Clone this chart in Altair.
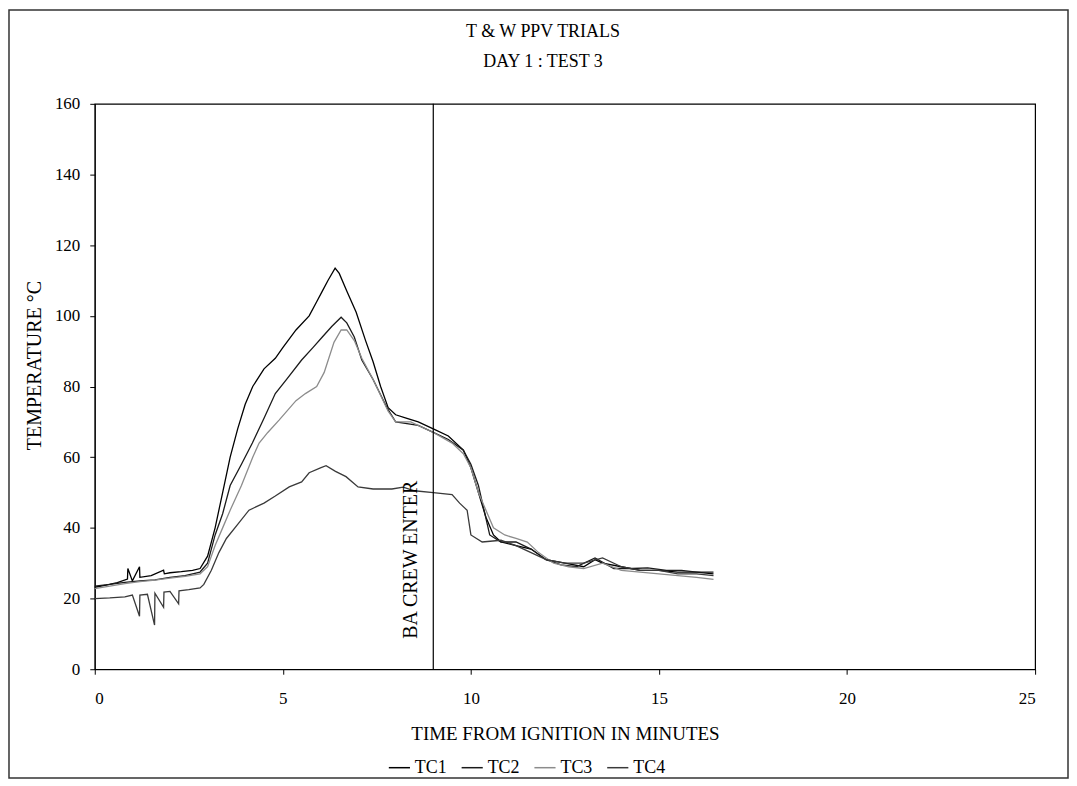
import altair as alt
import pandas as pd

# ---- data ----
tc1_t = [0, 0.3, 0.6, 0.87, 0.88, 1.0, 1.19, 1.2, 1.5, 1.83, 1.85, 2.0, 2.3, 2.6, 2.8, 3.0, 3.2, 3.4, 3.6, 3.8,
         4.0, 4.2, 4.5, 4.8, 5.0, 5.35, 5.7, 5.9, 6.05, 6.2, 6.39, 6.5, 6.7, 6.95, 7.2, 7.4, 7.6, 7.8, 8.0, 8.3,
         8.6, 9.0, 9.4, 9.8, 10.0, 10.2, 10.4, 10.6, 10.8, 11.2, 11.6, 12.0, 12.5, 13.0, 13.3, 13.5, 14.0, 14.5,
         15.0, 15.5, 16.0, 16.45]
tc1_v = [23.2, 23.8, 24.5, 25.5, 28.5, 25.0, 29.0, 26.0, 26.5, 28.0, 27.0, 27.3, 27.6, 28.0, 28.5, 32, 40, 50, 60, 68,
         75, 80, 85, 88, 91, 96, 100, 104, 107, 110, 113.5, 112, 107, 101, 93, 87, 80, 74, 72, 71,
         70, 68, 66, 62, 57, 50, 43, 38, 36, 35, 34, 31, 30, 29, 31, 30, 29, 28,
         28, 27.5, 27.5, 27]

tc2_t = [0, 0.4, 0.8, 1.2, 1.6, 2.0, 2.4, 2.8, 3.0, 3.2, 3.4, 3.6, 3.9, 4.19, 4.5, 4.8, 5.1, 5.5, 5.8, 6.05,
         6.3, 6.55, 6.7, 6.9, 7.1, 7.4, 7.77, 8.0, 8.3, 8.6, 9.0, 9.4, 9.8, 10.0, 10.2, 10.35, 10.5, 10.8, 11.2,
         11.6, 12.0, 12.4, 12.8, 13.3, 13.8, 14.3, 14.7, 15.2, 15.6, 16.0, 16.45]
tc2_v = [23.5, 24.0, 24.6, 25.0, 25.3, 26.0, 26.5, 27.5, 30, 38, 44, 52, 58, 64, 71, 78, 82, 87.5, 91, 94,
         97, 99.6, 98, 94, 87.5, 82, 74, 70, 69.5, 69, 67, 65, 62, 58, 52, 45, 38, 36, 36,
         34, 31, 29.5, 29, 31.5, 28.5, 28.5, 28.7, 28, 28, 27.5, 27.5]

tc3_t = [0, 0.4, 0.8, 1.2, 1.6, 2.0, 2.4, 2.8, 3.0, 3.2, 3.4, 3.6, 3.9, 4.2, 4.37, 4.6, 4.9, 5.35, 5.6, 5.9,
         6.1, 6.36, 6.55, 6.7, 6.9, 7.1, 7.4, 7.8, 8.0, 8.4, 9.0, 9.5, 9.8, 10.0, 10.2, 10.4, 10.6, 10.9, 11.2,
         11.5, 11.8, 12.2, 12.6, 13.0, 13.5, 14.0, 14.5, 15.0, 15.5, 16.0, 16.45]
tc3_v = [22.8, 23.5, 24.2, 24.8, 25.2, 25.8, 26.3, 27.0, 29, 35, 40, 45, 52, 60, 64, 67, 70.5, 76, 78, 80,
         84, 92.5, 96, 96, 93, 88, 82, 73, 70, 70, 67, 64, 61, 57, 50, 45, 40, 38, 37,
         36, 33, 30, 29, 28.5, 30, 28, 27.5, 27, 26.5, 26, 25.4]

tc4_t = [0, 0.4, 0.8, 1.0, 1.19, 1.2, 1.4, 1.59, 1.6, 1.83, 1.84, 2.0, 2.23, 2.24, 2.5, 2.8, 2.9, 3.1, 3.3, 3.5,
         3.8, 4.1, 4.5, 4.8, 5.17, 5.5, 5.7, 6.0, 6.15, 6.4, 6.68, 7.0, 7.4, 7.9, 8.2, 8.5, 9.0, 9.5, 9.7, 9.9,
         10.0, 10.3, 10.8, 11.2, 11.6, 12.0, 12.5, 13.0, 13.5, 14.0, 14.5, 15.0, 15.5, 16.0, 16.45]
tc4_v = [20.0, 20.2, 20.5, 21.0, 15.0, 21.0, 21.2, 12.5, 21.5, 17.5, 21.8, 22.0, 18.5, 22.2, 22.5, 23.0, 24, 28, 33, 37,
         41, 45, 47, 49, 51.6, 53, 55.6, 57, 57.6, 56, 54.5, 51.6, 51, 51, 51.5, 50.5, 50, 49.4, 47, 45,
         38, 36, 36.5, 35, 33, 31, 30, 30, 31.5, 29, 28, 28, 27, 27, 26.5]

series_names = ["TC1", "TC2", "TC3", "TC4"]
series_colors = ["#000000", "#1a1a1a", "#8c8c8c", "#3a3a3a"]
x_ticks = [0, 5, 10, 15, 20, 25]
y_ticks = [0, 20, 40, 60, 80, 100, 120, 140, 160]
event_time = [9]
event_label = ["BA CREW ENTER"]

FONT = "Liberation Serif"

rows = []
for name, ts, vs in zip(series_names, [tc1_t, tc2_t, tc3_t, tc4_t], [tc1_v, tc2_v, tc3_v, tc4_v]):
    for t, v in zip(ts, vs):
        rows.append({"series": name, "t": t, "temp": v})
df = pd.DataFrame(rows)

x_scale = alt.Scale(domain=[0, 25], nice=False, zero=False)
y_scale = alt.Scale(domain=[0, 160], nice=False)

lines = alt.Chart(df).mark_line(strokeWidth=1.3).encode(
    x=alt.X("t:Q", scale=x_scale,
            axis=alt.Axis(values=x_ticks, title="TIME FROM IGNITION IN MINUTES", grid=False,
                          tickSize=5, labelPadding=16, titlePadding=18, format="d",
                          titleFontSize=19)),
    y=alt.Y("temp:Q", scale=y_scale,
            axis=alt.Axis(values=y_ticks, title="TEMPERATURE °C", grid=False,
                          tickSize=5, labelPadding=10, titlePadding=10, titleFontSize=20,
                          titleY=262)),
    color=alt.Color("series:N",
                    scale=alt.Scale(domain=series_names, range=series_colors),
                    legend=alt.Legend(title=None, orient="none", direction="horizontal",
                                      legendX=294, legendY=654, symbolType="stroke",
                                      symbolSize=450, symbolStrokeWidth=1.5,
                                      labelFont=FONT, labelFontSize=18, columnPadding=10,
                                      labelOffset=4, labelColor="black")),
    order=alt.Order("t:Q"),
)

ev = pd.DataFrame({"t": event_time, "label": event_label, "ty": [31], "tx": [8.4]})
rule = alt.Chart(ev).mark_rule(color="black", strokeWidth=1.2).encode(x=alt.X("t:Q", scale=x_scale))
label = alt.Chart(ev).mark_text(angle=270, font=FONT, fontSize=20, color="black").encode(
    x=alt.X("tx:Q", scale=x_scale), y=alt.Y("ty:Q", scale=y_scale), text="label:N")

frame = alt.Chart(pd.DataFrame({"k": [0]})).mark_rect(
    fillOpacity=0, stroke="#333333", strokeWidth=1.5).encode(
    x=alt.value(-86), x2=alt.value(976), y=alt.value(-94), y2=alt.value(676))

chart = alt.layer(frame, lines, rule, label).properties(
    width=943, height=567,
    padding=0,
    title=alt.TitleParams(text="T & W PPV TRIALS", subtitle="DAY 1 : TEST 3",
                          anchor="middle", dx=-22, offset=-62,
                          font=FONT, fontSize=18, fontWeight="normal", color="black",
                          subtitleFont=FONT, subtitleFontSize=18, subtitleColor="black",
                          subtitlePadding=12),
).configure_view(stroke="black", strokeWidth=1.2).configure_axis(
    labelFont=FONT, titleFont=FONT, labelFontSize=17, titleFontSize=19,
    titleFontWeight="normal", labelColor="black", titleColor="black",
    domainColor="black", tickColor="black"
)

chart.save("out.html", embed_options={"renderer": "svg", "actions": False})
